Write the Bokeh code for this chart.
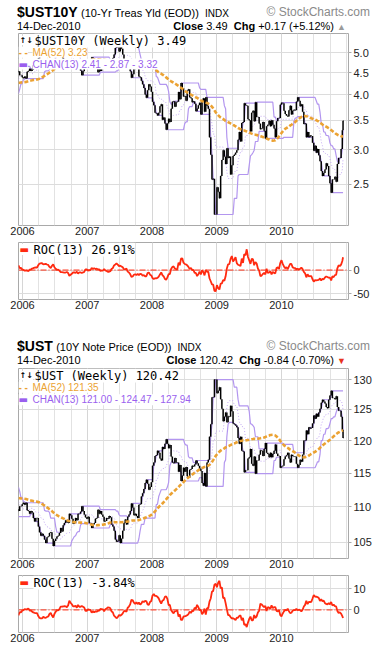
import numpy as np
import pandas as pd
from bokeh.plotting import figure
from bokeh.models import Range1d, FixedTicker, PrintfTickFormatter, Label, ColumnDataSource, Span, Div
from bokeh.layouts import column
from bokeh.embed import file_html
from bokeh.resources import INLINE

# ---------------- data ----------------
year_ticks = [2006, 2007, 2008, 2009, 2010]
yield_ticks = [2.5, 3.0, 3.5, 4.0, 4.5, 5.0]
price_ticks = [105, 110, 115, 120, 125, 130]
roc1_ticks = [-50, 0]
roc2_ticks = [0, 10]

first_week = "2005-12-09"
last_day = "2010-12-14"

# weekly closes of the 52 weeks before the first shown bar (warm-up for MA / CHAN / ROC)
ust10y_pre = [4.15, 4.20, 4.22, 4.22, 4.28, 4.21, 4.15, 4.14, 4.08, 4.07, 4.27, 4.27,
              4.32, 4.53, 4.51, 4.46, 4.44, 4.43, 4.24, 4.20, 4.20, 4.28, 4.14, 4.12, 4.05,
              3.91, 4.05, 4.06, 3.92, 3.97, 4.09, 4.17, 4.22, 4.28, 4.38, 4.26, 4.19, 4.18,
              4.03, 4.12, 4.27, 4.24, 4.33, 4.35, 4.47, 4.40, 4.56, 4.65, 4.55, 4.49, 4.43, 4.50]

# weekly closes 9-Dec-2005 .. 14-Dec-2010
ust10y_close = [
    4.53, 4.44, 4.44, 4.39,
    4.37, 4.41, 4.36, 4.52, 4.54, 4.59, 4.54, 4.57, 4.68, 4.76, 4.68, 4.68, 4.85,
    4.97, 5.04, 5.00, 5.05, 5.11, 5.19, 5.07, 5.06, 4.99, 4.97, 5.10, 5.24, 5.14,
    5.10, 5.06, 5.04, 4.99, 4.89, 4.96, 4.83, 4.79, 4.73, 4.77, 4.79, 4.60, 4.63,
    4.70, 4.80, 4.79, 4.68, 4.72, 4.60, 4.60, 4.55, 4.44, 4.53, 4.61, 4.67, 4.70,
    4.65, 4.78, 4.78, 4.88, 4.81, 4.79, 4.69, 4.68, 4.51, 4.59, 4.54, 4.61, 4.65,
    4.75, 4.74, 4.68, 4.70, 4.64, 4.67, 4.81, 4.86, 4.95, 5.12, 5.16, 5.14, 5.03,
    5.19, 5.10, 4.95, 4.78, 4.71, 4.81, 4.65, 4.61, 4.53, 4.38, 4.46, 4.63, 4.59,
    4.64, 4.68, 4.41, 4.39, 4.31, 4.23, 4.15, 4.01, 3.94, 4.10, 4.23, 4.18, 4.07,
    3.86, 3.79, 3.64, 3.63, 3.59, 3.64, 3.77, 3.81, 3.51, 3.55, 3.44, 3.33, 3.44,
    3.53, 3.47, 3.72, 3.86, 3.87, 3.76, 3.85, 3.86, 4.06, 3.91, 4.26, 4.15, 3.97,
    3.98, 3.88, 4.09, 4.12, 3.95, 3.93, 3.85, 3.87, 3.82, 3.67, 3.72, 3.79, 3.84,
    3.61, 3.87, 3.93, 3.66, 3.95, 3.78, 3.72, 3.20, 2.92, 2.56, 2.57, 2.13, 2.13,
    2.46, 2.40, 2.32, 2.61, 2.84, 2.99, 2.89, 2.78, 3.02, 2.87, 2.89, 2.63, 2.76,
    2.90, 2.92, 2.95, 2.99, 3.16, 3.29, 3.13, 3.45, 3.47, 3.83, 3.79, 3.78, 3.52,
    3.50, 3.30, 3.64, 3.68, 3.48, 3.85, 3.56, 3.56, 3.44, 3.34, 3.35, 3.47, 3.31,
    3.18, 3.39, 3.42, 3.49, 3.39, 3.50, 3.42, 3.35, 3.20, 3.48, 3.54, 3.54, 3.80,
    3.84, 3.83, 3.68, 3.62, 3.59, 3.57, 3.69, 3.78, 3.61, 3.68, 3.70, 3.69, 3.86,
    3.95, 3.88, 3.77, 3.81, 3.66, 3.43, 3.44, 3.20, 3.29, 3.20, 3.23, 3.22, 3.11,
    2.98, 3.06, 2.95, 3.01, 2.91, 2.82, 2.68, 2.61, 2.65, 2.70, 2.79, 2.75, 2.61,
    2.51, 2.39, 2.56, 2.56, 2.60, 2.53, 2.78, 2.87, 2.87, 3.01, 3.32, 3.49]

ust_pre = [112.1, 111.7, 111.6, 111.6, 111.2, 111.7, 112.1, 112.1, 112.6, 112.6, 111.2, 111.2,
           110.9, 109.4, 109.6, 109.9, 110.1, 110.1, 111.4, 111.7, 111.7, 111.2, 112.1, 112.3,
           112.8, 113.7, 112.8, 112.7, 113.7, 113.3, 112.5, 111.9, 111.6, 111.2, 110.5, 111.3,
           111.8, 111.9, 112.9, 112.3, 111.2, 111.4, 110.8, 110.7, 109.9, 110.3, 109.2, 108.6,
           109.3, 109.7, 110.1, 109.7]

ust_close = [
    109.4, 110.1, 110.1, 110.4,
    110.6, 110.3, 110.6, 109.5, 109.4, 109.0, 109.4, 109.2, 108.4, 107.9, 108.4, 108.4, 107.2,
    106.4, 105.9, 106.2, 105.9, 105.4, 104.9, 105.7, 105.8, 106.3, 106.4, 105.5, 104.5, 105.2,
    105.5, 105.8, 105.9, 106.3, 107.0, 106.5, 107.4, 107.7, 108.1, 107.8, 107.7, 109.0, 108.8,
    108.3, 107.6, 107.7, 108.4, 108.1, 109.0, 109.0, 109.3, 110.1, 109.4, 108.9, 108.5, 108.3,
    108.6, 107.7, 107.7, 107.0, 107.5, 107.7, 108.3, 108.4, 109.6, 109.0, 109.4, 108.9, 108.6,
    107.9, 108.0, 108.4, 108.3, 108.7, 108.5, 107.5, 107.2, 106.6, 105.4, 105.1, 105.2, 106.0,
    104.9, 105.5, 106.6, 107.7, 108.2, 107.5, 108.6, 108.9, 109.4, 110.5, 109.9, 108.8, 109.0,
    108.7, 108.4, 110.3, 110.4, 111.5, 112.0, 112.6, 113.5, 114.0, 113.4, 112.5, 112.9, 113.6,
    116.1, 116.6, 117.6, 117.7, 118.4, 118.1, 117.2, 116.9, 119.0, 118.7, 119.5, 120.2, 119.5,
    118.8, 119.3, 117.5, 116.6, 116.5, 117.3, 116.6, 116.6, 115.2, 116.2, 113.8, 114.6, 115.8,
    115.2, 115.9, 114.5, 114.3, 115.5, 115.6, 116.1, 116.0, 116.3, 116.9, 116.5, 116.1, 115.7,
    115.3, 113.5, 113.1, 115.0, 113.0, 116.6, 117.0, 120.6, 122.6, 127.0, 127.0, 130.0, 130.0,
    127.7, 128.1, 128.7, 126.7, 125.1, 123.1, 123.8, 124.5, 122.9, 123.9, 123.8, 125.6, 124.7,
    122.7, 122.6, 122.4, 122.1, 120.4, 119.5, 120.6, 118.4, 118.3, 115.1, 115.4, 115.4, 117.2,
    117.4, 118.7, 116.4, 116.1, 117.5, 114.9, 116.9, 116.9, 117.8, 118.5, 118.4, 117.6, 118.7,
    119.6, 118.1, 117.9, 117.4, 118.1, 117.4, 117.9, 118.4, 119.4, 118.0, 117.6, 117.6, 115.8,
    116.0, 116.1, 117.1, 117.5, 117.7, 118.1, 117.2, 116.6, 117.8, 117.6, 117.5, 117.5, 116.4,
    115.8, 116.2, 117.0, 116.7, 117.8, 120.0, 120.0, 121.6, 121.0, 122.1, 121.9, 122.0, 122.7,
    124.0, 123.5, 124.3, 123.8, 124.5, 125.1, 126.1, 126.6, 126.3, 126.0, 125.4, 125.2, 126.6,
    127.3, 128.1, 126.9, 126.9, 126.7, 127.2, 125.4, 124.8, 124.8, 123.8, 121.7, 120.42]

hdr1 = dict(sym="$UST10Y", name="(10-Yr Treas Yld (EOD))", date="14-Dec-2010",
            close="3.49", chg="+0.17 (+5.12%)", arrow="\u25B2", arrow_color="#9a9a9a",
            leg1="$UST10Y (Weekly) 3.49", leg2="MA(52) 3.23", leg3="CHAN(13) 2.41 - 2.87 - 3.32",
            roc="ROC(13) 26.91%")
hdr2 = dict(sym="$UST", name="(10Y Note Price (EOD))", date="14-Dec-2010",
            close="120.42", chg="-0.84 (-0.70%)", arrow="\u25BC", arrow_color="#e8321e",
            leg1="$UST (Weekly) 120.42", leg2="MA(52) 121.35", leg3="CHAN(13) 121.00 - 124.47 - 127.94",
            roc="ROC(13) -3.84%")


# ---------------- indicators ----------------
def build(pre, close):
    n_pre, n = len(pre), len(close)
    vis = pd.date_range(first_week, periods=n, freq="7D")
    vis = vis[:-1].append(pd.DatetimeIndex([last_day]))
    pre_d = pd.date_range(end=pd.Timestamp(first_week) - pd.Timedelta(days=7), periods=n_pre, freq="7D")
    d = pre_d.append(vis)
    x = np.asarray(d.year + (d.dayofyear - 1) / np.where(d.is_leap_year, 366.0, 365.0), dtype=float)
    c = pd.Series(list(pre) + list(close), dtype=float)
    prev = c.shift(1)
    hi = pd.Series(np.fmax(c.values, prev.values))
    lo = pd.Series(np.fmin(c.values, prev.values))
    ma = c.rolling(52).mean()
    up = hi.rolling(13).max().shift(1)
    dn = lo.rolling(13).min().shift(1)
    mid = (up + dn) / 2
    roc = (c / c.shift(13) - 1) * 100
    s = slice(n_pre, None)
    return ColumnDataSource(dict(x=x[s], xr=x[s] + 3.0 / 365, c=c.values[s], hi=hi.values[s],
                                 lo=lo.values[s], ma=ma.values[s], up=up.values[s],
                                 dn=dn.values[s], mid=mid.values[s], roc=roc.values[s]))

src1 = build(ust10y_pre, ust10y_close)
src2 = build(ust_pre, ust_close)

# ---------------- layout ----------------
FW = 380
FL, FR = 18, 348
X0, X1 = 2005.938, 2011.035
quarter_ticks = [y + q * 0.25 for y in range(2005, 2012) for q in range(4)]

SANS = "Liberation Sans"
MONO = "DejaVu Sans Mono"
DJV = "DejaVu Sans"
MA_COLOR = "#eba232"
CH_COLOR = "#b396ef"
CH_TEXT = "#9a5fee"
ROC_COLOR = "#ff2a10"


def make_fig(h, top, bottom, yr, ylog, yticks, yfmt):
    p = figure(width=FW, height=h, x_range=Range1d(X0, X1), y_range=Range1d(*yr),
               y_axis_type="log" if ylog else "linear", y_axis_location="right",
               output_backend="svg", toolbar_location=None,
               min_border_left=FL, min_border_right=FW - FR, min_border_top=top,
               min_border_bottom=bottom)
    p.background_fill_color = "white"
    p.border_fill_color = "white"
    p.outline_line_color = "#a9a9a9"
    xt = FixedTicker(ticks=year_ticks, minor_ticks=quarter_ticks)
    xa = p.xaxis[0]
    xa.ticker = xt
    xa.formatter = PrintfTickFormatter(format="%d")
    xa.axis_line_color = None
    xa.major_tick_line_color = None
    xa.minor_tick_line_color = None
    xa.major_tick_out = 0
    xa.major_tick_in = 0
    xa.minor_tick_out = 0
    xa.major_label_standoff = 1
    xa.major_label_text_font = SANS
    xa.major_label_text_font_size = "11px"
    xa.major_label_text_color = "#222222"
    p.xgrid.ticker = xt
    p.xgrid.grid_line_color = "#d6d6d6"
    p.xgrid.minor_grid_line_color = "#e2e2e2"
    yt = FixedTicker(ticks=yticks)
    ya = p.yaxis[0]
    ya.ticker = yt
    ya.formatter = PrintfTickFormatter(format=yfmt)
    ya.axis_line_color = None
    ya.major_tick_out = 3
    ya.major_tick_in = 0
    ya.major_tick_line_color = "#aaaaaa"
    ya.minor_tick_line_color = None
    ya.major_label_standoff = 2
    ya.major_label_text_font = SANS
    ya.major_label_text_font_size = "11px"
    ya.major_label_text_color = "#222222"
    p.ygrid.ticker = yt
    p.ygrid.grid_line_color = "#dcdcdc"
    return p


def leg(p, text, xabs, yoff, size, font=SANS, color="black", bold=False):
    p.add_layout(Label(x=p.x_range.start, y=p.y_range.end, x_offset=xabs - FL,
                       y_offset=yoff, text=text, text_font=font, text_font_size=f"{size}px",
                       text_color=color, text_font_style="bold" if bold else "normal",
                       text_align="left", text_baseline="middle",
                       background_fill_color="white"))


def header_div(h, hd, top1, top2):
    font = "font-family:'Liberation Sans',Arial,Helvetica,sans-serif;"
    html = (
        f'<div style="position:relative;width:{FW}px;height:{h}px;{font}color:#000;overflow:hidden;">'
        f'<div style="position:absolute;left:17px;top:{top1}px;white-space:nowrap;line-height:14px;">'
        f'<span style="font-weight:bold;font-size:14px;">{hd["sym"]}</span> '
        f'<span style="font-size:11px;">{hd["name"]}</span> '
        f'<span style="font-size:10px;">&nbsp;INDX</span></div>'
        f'<div style="position:absolute;right:10px;top:{top1 + 1}px;white-space:nowrap;'
        f'line-height:13px;font-size:12px;color:#8a8a8a;">&#169; StockCharts.com</div>'
        f'<div style="position:absolute;left:17px;top:{top2}px;white-space:nowrap;'
        f'line-height:11px;font-size:11px;">{hd["date"]}</div>'
        f'<div style="position:absolute;right:{FW - FR + 2}px;top:{top2}px;white-space:nowrap;'
        f'line-height:11px;font-size:11px;">'
        f'<b>Close</b> {hd["close"]}&nbsp; <b>Chg</b> {hd["chg"]} '
        f'<span style="font-size:9px;color:{hd["arrow_color"]};">{hd["arrow"]}</span></div>'
        f'</div>')
    return Div(text=html, width=FW, height=h, margin=0)


def price_panel(src, h, yr, yticks, yfmt, hd, rows):
    p = make_fig(h, 1, 16, yr, True, yticks, yfmt)
    p.line("x", "up", source=src, color=CH_COLOR, line_width=1.2)
    p.line("x", "dn", source=src, color=CH_COLOR, line_width=1.2)
    p.line("x", "mid", source=src, color="#c4aaf3", line_width=1, line_dash="1 2")
    p.segment(x0="x", y0="lo", x1="x", y1="hi", source=src, color="black", line_width=1.5)
    p.segment(x0="x", y0="c", x1="xr", y1="c", source=src, color="black", line_width=1)
    p.line("x", "ma", source=src, color=MA_COLOR, line_width=2.6, line_dash="4 2")
    r1, r2, r3 = rows
    leg(p, "\u2191\u2193", 19, r1, 8, font=DJV, bold=True)
    leg(p, hd["leg1"], 34, r1, 12, font=MONO)
    leg(p, "- -", 18, r2, 10, color=MA_COLOR, bold=True)
    leg(p, hd["leg2"], 32, r2, 10, color=MA_COLOR)
    leg(p, "\u25AC", 18, r3, 10, font=DJV, color=CH_TEXT)
    leg(p, hd["leg3"], 32, r3, 10, color=CH_TEXT)
    return p


def roc_panel(src, h, yr, yticks, hd):
    p = make_fig(h, 1, 16, yr, False, yticks, "%d")
    p.add_layout(Span(location=0, dimension="width", line_color=ROC_COLOR, line_width=1,
                      line_dash="6 2 1 2"))
    p.line("x", "roc", source=src, color=ROC_COLOR, line_width=1.8)
    leg(p, "\u25AC", 19, -7, 10, font=DJV, color=ROC_COLOR)
    leg(p, hd["roc"], 33, -7, 12, font=MONO)
    return p


hA = header_div(32, hdr1, 5, 21)
pA = price_panel(src1, 209, (2.01, 5.53), yield_ticks, "%.1f", hdr1, (-7, -18.7, -30.5))
pB = roc_panel(src1, 74, (-62, 58), roc1_ticks, hdr1)
hC = header_div(52, hdr2, 24, 40)
pC = price_panel(src2, 207, (102.8, 131.9), price_ticks, "%d", hdr2, (-7, -18.7, -31.3))
pD = roc_panel(src2, 74, (-10.7, 16.3), roc2_ticks, hdr2)

layout = column(hA, pA, pB, hC, pC, pD, spacing=0)
open("out.html", "w").write(file_html(layout, INLINE))
